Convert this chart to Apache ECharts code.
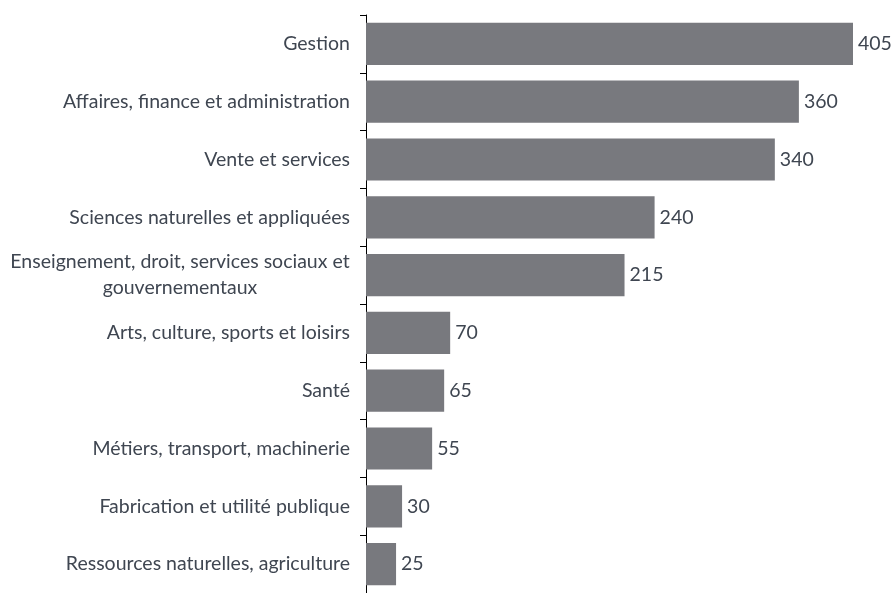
<!DOCTYPE html>
<html>
<head>
<meta charset="utf-8">
<script src="https://cdn.jsdelivr.net/npm/echarts@6/dist/echarts.min.js"></script>
<style>
  html, body { margin: 0; padding: 0; background: #fff; }
  #chart { width: 891px; height: 593px; }
</style>
</head>
<body>
<div id="chart"></div>
<script>
// Occupational categories, top to bottom
const categories = [
  'Gestion',
  'Affaires, finance et administration',
  'Vente et services',
  'Sciences naturelles et appliquées',
  'Enseignement, droit, services sociaux et gouvernementaux',
  'Arts, culture, sports et loisirs',
  'Santé',
  'Métiers, transport, machinerie',
  'Fabrication et utilité publique',
  'Ressources naturelles, agriculture',
];
const values = [405, 360, 340, 240, 215, 70, 65, 55, 30, 25];

const BAR_COLOR = '#78797e';
const TEXT_COLOR = '#3f4651';
const FONT = 'Lato, sans-serif';
const FONT_SIZE = 19.5;

const chart = echarts.init(document.getElementById('chart'));

chart.setOption({
  animation: false,
  grid: { left: 366, top: 15, width: 487, height: 580 },
  xAxis: {
    type: 'value',
    min: 0,
    max: 405,
    show: false,
  },
  yAxis: {
    type: 'category',
    data: categories,
    inverse: true,
    axisLine: { lineStyle: { color: '#000', width: 1 } },
    axisTick: { show: true, length: 6, lineStyle: { color: '#000' } },
    axisLabel: {
      color: TEXT_COLOR,
      fontFamily: FONT,
      fontSize: FONT_SIZE,
      margin: 16,
      formatter: (v) => {
        // the long label wraps onto two centred lines
        if (v.length > 40) {
          return '{c|Enseignement, droit, services sociaux et}\n{c|gouvernementaux}';
        }
        return v;
      },
      rich: {
        c: {
          width: 340,
          align: 'center',
          color: TEXT_COLOR,
          fontFamily: FONT,
          fontSize: FONT_SIZE,
          lineHeight: 26,
        },
      },
    },
  },
  series: [
    {
      type: 'bar',
      data: values,
      barCategoryGap: '27%',
      itemStyle: { color: BAR_COLOR },
      label: {
        show: true,
        position: 'right',
        distance: 5,
        color: TEXT_COLOR,
        fontFamily: FONT,
        fontSize: FONT_SIZE,
      },
    },
  ],
});
</script>
</body>
</html>
